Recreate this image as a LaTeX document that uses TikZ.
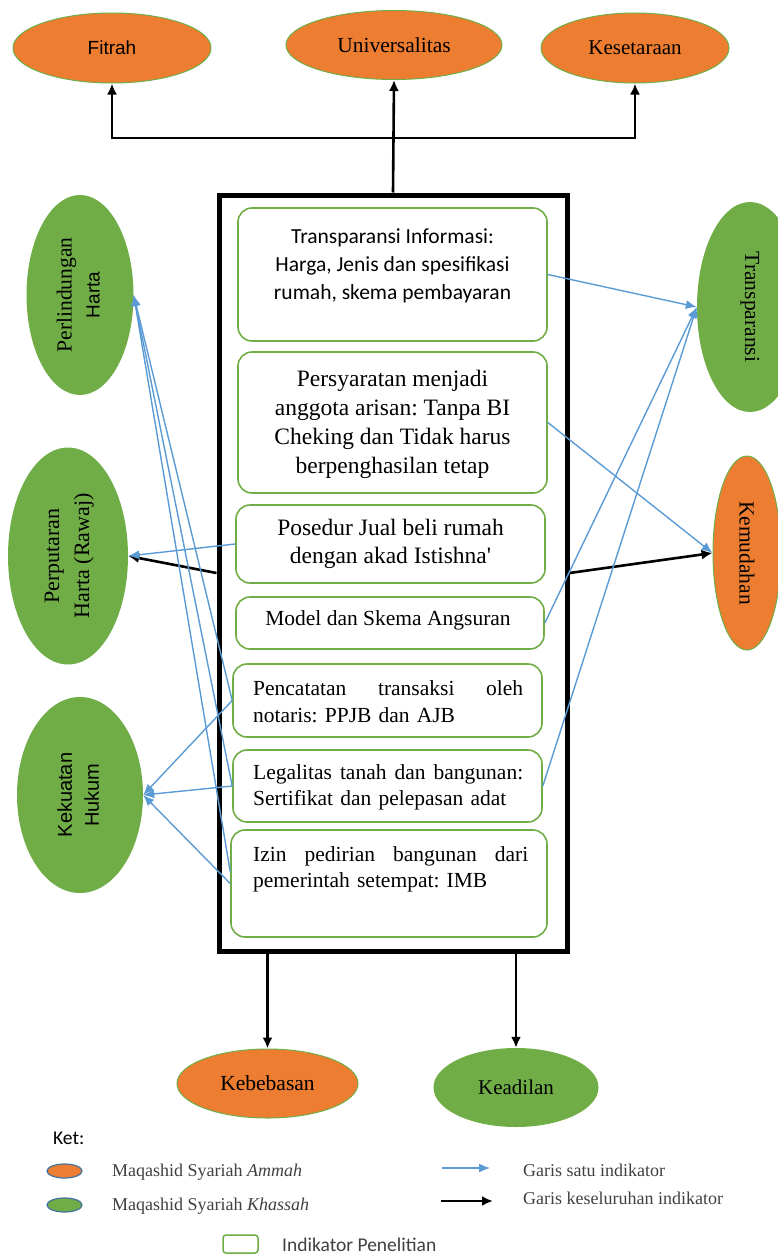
\documentclass[tikz,border=0pt]{standalone}
\usepackage{fontspec}
\setmainfont{Liberation Serif}
\newfontfamily\calfont{Carlito}
\newfontfamily\arifont{Liberation Sans}
\usetikzlibrary{arrows.meta,shapes.geometric}
\definecolor{orng}{HTML}{ED7D31}
\definecolor{grn}{HTML}{70AD47}
\definecolor{blu}{HTML}{5B9BD5}
\definecolor{lgdblue}{HTML}{41719C}
\definecolor{lgdtext}{HTML}{404040}
\frenchspacing
\tikzset{
  oell/.style={ellipse, fill=orng, draw=grn, line width=1pt, inner sep=0pt},
  gell/.style={ellipse, fill=grn, draw=none, inner sep=0pt},
  ibox/.style={draw=grn, line width=1.6pt, rounded corners=14pt, inner sep=0pt},
  mainbox/.style={draw=black, line width=5pt, inner sep=0pt},
  bline/.style={blu, line width=1.4pt, -{Latex[length=11pt,width=9pt]}},
  kline/.style={black, line width=2.6pt, -{Latex[length=11pt,width=10pt]}},
  txt/.style={inner sep=0pt, text=black},
  lgd/.style={inner sep=0pt, anchor=west, text=lgdtext, font=\fontsize{18}{22}\selectfont},
}
\begin{document}
\begin{tikzpicture}[x=1pt,y=-1pt]
\useasboundingbox (0,0) rectangle (777,1255);

% top ellipses
\node[oell, minimum width=198pt, minimum height=70pt] (fitrah) at (112,48)
  {\arifont\fontsize{19}{22}\selectfont Fitrah};
\node[oell, minimum width=216pt, minimum height=69pt] (univ) at (394,45)
  {\fontsize{21.5}{26}\selectfont Universalitas};
\node[oell, minimum width=188pt, minimum height=70pt] (keset) at (635,48)
  {\fontsize{21}{26}\selectfont Kesetaraan};

% main container
\node[mainbox, minimum width=348pt, minimum height=756pt] (main) at (393,573) {};

% inner indicator boxes
\node[ibox, minimum width=309pt, minimum height=133pt] (b1) at (392.5,274.5) {};
\node[ibox, minimum width=309pt, minimum height=141pt] (b2) at (392.5,422.5) {};
\node[ibox, minimum width=309pt, minimum height=78pt]  (b3) at (390.5,544) {};
\node[ibox, minimum width=308pt, minimum height=52pt]  (b4) at (390,623) {};
\node[ibox, minimum width=309pt, minimum height=73pt]  (b5) at (387.5,700.5) {};
\node[ibox, minimum width=309pt, minimum height=72pt]  (b6) at (387.5,786) {};
\node[ibox, minimum width=316pt, minimum height=107pt] (b7) at (389,883.5) {};

% box texts
\node[txt, align=center, font=\calfont\fontsize{21.5}{28}\selectfont] (t1) at (392.5,266)
  {Transparansi Informasi:\\Harga, Jenis dan spesifikasi\\rumah, skema pembayaran};
\node[txt, align=center, font=\fontsize{23.5}{29}\selectfont] (t2) at (392.5,424)
  {Persyaratan menjadi\\anggota arisan: Tanpa BI\\Cheking dan Tidak harus\\berpenghasilan tetap};
\node[txt, align=center, font=\fontsize{23.5}{28}\selectfont] (t3) at (390.5,544)
  {Posedur Jual beli rumah\\dengan akad Istishna\textquotesingle};
\node[txt, align=center, font=\fontsize{21.5}{26}\selectfont] (t4) at (388,620)
  {Model dan Skema Angsuran};
\node[txt, anchor=west, text width=270pt, font=\fontsize{21.5}{27}\selectfont] (t5) at (253,701.5)
  {Pencatatan\hfill transaksi\hfill oleh\\notaris: PPJB dan AJB};
\node[txt, anchor=west, text width=270pt, font=\fontsize{21.5}{26}\selectfont] (t6) at (253,787)
  {Legalitas\hfill tanah\hfill dan\hfill bangunan:\\Sertifikat dan pelepasan adat};
\node[txt, anchor=west, text width=275pt, font=\fontsize{21.5}{26}\selectfont] (t7) at (253,869)
  {Izin\hfill pedirian\hfill bangunan\hfill dari\\pemerintah setempat: IMB};

% left ellipses
\node[gell, minimum width=107pt, minimum height=200pt] (perl) at (80,295)
  {\rotatebox{90}{\fontsize{21.5}{28}\selectfont\begin{tabular}{@{}c@{}}Perlindungan\\{\arifont\fontsize{19}{28}\selectfont Harta}\end{tabular}}};
\node[gell, minimum width=120pt, minimum height=217pt] (perp) at (68,556)
  {\rotatebox{90}{\fontsize{22}{30}\selectfont\begin{tabular}{@{}c@{}}Perputaran\\Harta (Rawaj)\end{tabular}}};
\node[gell, minimum width=126pt, minimum height=196pt] (kek) at (80,795)
  {\rotatebox{90}{\arifont\fontsize{20}{27}\selectfont\begin{tabular}{@{}c@{}}Kekuatan\\Hukum\end{tabular}}};

% right ellipses
\node[gell, minimum width=106pt, minimum height=210pt] (trans) at (750,307)
  {\rotatebox{-90}{\fontsize{21.5}{26}\selectfont Transparansi}};
\node[oell, minimum width=68pt, minimum height=194pt] (kemu) at (747,553)
  {\rotatebox{-90}{\fontsize{21.5}{26}\selectfont Kemudahan}};

% bottom ellipses
\node[oell, minimum width=181pt, minimum height=69pt] (keb) at (267.5,1083.5)
  {\fontsize{21.5}{26}\selectfont Kebebasan};
\node[gell, minimum width=165pt, minimum height=79pt] (adil) at (516,1087.5)
  {\fontsize{21}{26}\selectfont Keadilan};

% black connectors (whole set of indicators)
\coordinate (jn) at (394,138);
\draw[kline] (main.north) -- (univ.south);
\draw[kline] (jn) -| (fitrah.south);
\draw[kline] (jn) -| (keset.south);
\draw[kline] (main.south -| keb.north) -- (keb.north);
\draw[kline] (main.south -| adil.north) -- (adil.north);
\draw[kline] (main.west) -- (perp.east);
\draw[kline] (main.east) -- (kemu.west);

% blue connectors (single indicator)
\draw[bline] (b1.east) -- (trans.west);
\draw[bline] (b2.east) -- (kemu.west);
\draw[bline] (b4.east) -- (trans.west);
\draw[bline] (b6.east) -- (trans.west);
\draw[bline] (b3.west) -- (perp.east);
\draw[bline] (b5.west) -- (perl.east);
\draw[bline] (b6.west) -- (perl.east);
\draw[bline] ([yshift=12pt]b7.west) -- (perl.east);
\draw[bline] (b5.west) -- (kek.east);
\draw[bline] (b6.west) -- (kek.east);
\draw[bline] (b7.west) -- (kek.east);

% legend
\node[txt, anchor=west, font=\calfont\fontsize{19.5}{24}\selectfont] (ket) at (53,1138) {Ket:};
\node[ellipse, fill=orng, draw=lgdblue, line width=1.2pt, minimum width=35pt, minimum height=14pt, inner sep=0pt] (lo) at (64.5,1171) {};
\node[ellipse, fill=grn, draw=lgdblue, line width=1.2pt, minimum width=35pt, minimum height=14pt, inner sep=0pt] (lg) at (64.5,1205) {};
\node[lgd] (lot) at (112,1172) {Maqashid Syariah \textit{Ammah}};
\node[lgd] (lgt) at (112,1206) {Maqashid Syariah \textit{Khassah}};
\coordinate (la1) at (442,1168);
\coordinate (la2) at (490,1168);
\coordinate (lk1) at (441,1201);
\coordinate (lk2) at (493,1201);
\draw[bline] (la1) -- (la2);
\draw[kline] (lk1) -- (lk2);
\node[lgd] (lat) at (523,1170) {Garis satu indikator};
\node[lgd] (lkt) at (523,1198) {Garis keseluruhan indikator};
\node[draw=grn, line width=1.5pt, rounded corners=3pt, minimum width=35pt, minimum height=18pt, inner sep=0pt] (lr) at (240.5,1244) {};
\node[lgd, font=\calfont\fontsize{19.5}{24}\selectfont] (lrt) at (282,1245) {Indikator Penelitian};
\end{tikzpicture}
\end{document}
